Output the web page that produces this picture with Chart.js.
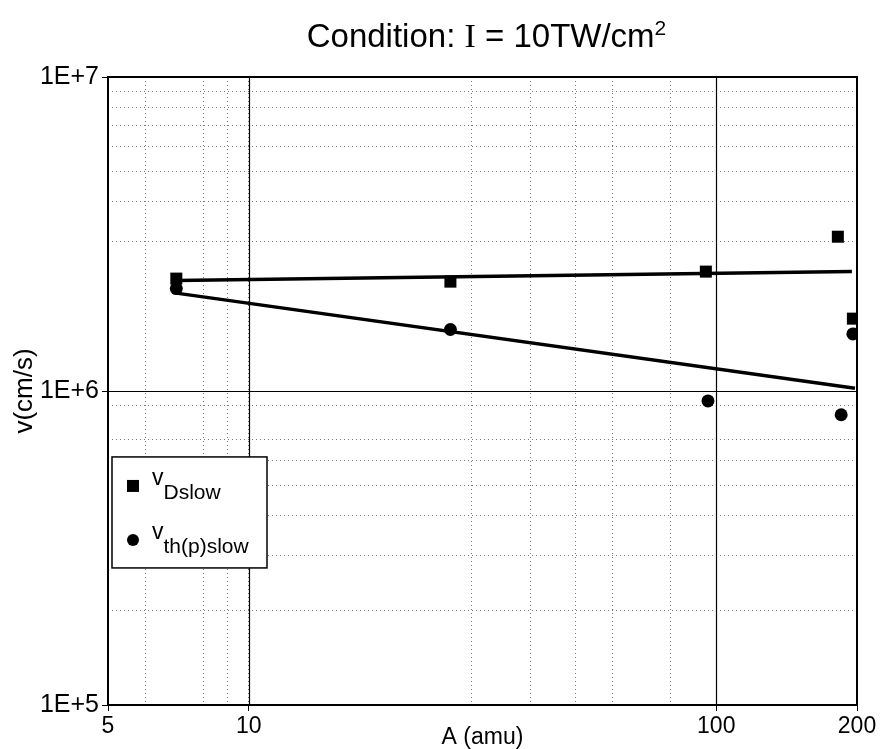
<!DOCTYPE html>
<html>
<head>
<meta charset="utf-8">
<script src="https://cdn.jsdelivr.net/npm/chart.js@4.4.0/dist/chart.umd.min.js"></script>
<style>
  html, body { margin: 0; padding: 0; background: #fff; }
</style>
</head>
<body>
<canvas id="chart" width="882" height="749"></canvas>
<script>
// Values: A (amu) against v (cm/s), log-log
const massD = [7, 27, 95, 182, 196];
const vDslow = [2.28e6, 2.23e6, 2.4e6, 3.1e6, 1.7e6];
const massTh = [7, 27, 96, 185, 196];
const vThSlow = [2.12e6, 1.57e6, 0.93e6, 0.84e6, 1.52e6];

// End points of the two fitted trend lines
const fitDx = [7, 195];
const fitDy = [2.25e6, 2.4e6];
const fitThx = [7, 198];
const fitThy = [2.05e6, 1.02e6];

// Grid positions that show in the scan, and the ticks that carry labels
const xTicks = [5, 6, 8, 9, 10, 30, 40, 50, 60, 80, 100, 200];
const xLabelled = [5, 10, 100, 200];
const yTicks = [1e5, 2e5, 3e5, 4e5, 5e5, 6e5, 7e5, 9e5,
                1e6, 3e6, 4e6, 5e6, 6e6, 7e6, 8e6, 9e6, 1e7];
const yLabelled = [1e5, 1e6, 1e7];
const yLabelText = ['1E+5', '1E+6', '1E+7'];
const xMajor = [10, 100];
const yMajor = [1e6];

const FONT = "'Liberation Sans', Arial, sans-serif";
const SERIF = "'Liberation Serif', 'Times New Roman', serif";

function pairs(xs, ys) {
    return xs.map((x, i) => ({ x: x, y: ys[i] }));
}

// Solid major grid lines and the full box round the plot
const framePlugin = {
    id: 'frame',
    beforeDatasetsDraw(chart) {
        const { ctx, chartArea: a, scales } = chart;
        ctx.save();
        ctx.strokeStyle = '#000';
        ctx.lineWidth = 1.2;
        ctx.setLineDash([]);
        ctx.beginPath();
        xMajor.forEach(v => {
            const px = Math.round(scales.x.getPixelForValue(v)) + 0.5;
            ctx.moveTo(px, a.top);
            ctx.lineTo(px, a.bottom);
        });
        yMajor.forEach(v => {
            const py = Math.round(scales.y.getPixelForValue(v)) + 0.5;
            ctx.moveTo(a.left, py);
            ctx.lineTo(a.right, py);
        });
        ctx.stroke();
        ctx.lineWidth = 2;
        ctx.strokeRect(a.left, a.top, a.right - a.left, a.bottom - a.top);
        ctx.restore();
    }
};

// Title with a serif "I" and a raised 2, like the original
const titlePlugin = {
    id: 'mixedTitle',
    afterDraw(chart) {
        const { ctx, chartArea: a } = chart;
        const parts = [
            ['Condition: ', '33px ' + FONT, 0],
            ['I', '34px ' + SERIF, 0],
            [' = 10TW/cm', '33px ' + FONT, 0],
            ['2', '21px ' + FONT, -12]
        ];
        ctx.save();
        ctx.fillStyle = '#000';
        ctx.textBaseline = 'alphabetic';
        ctx.textAlign = 'left';
        let total = 0;
        parts.forEach(p => { ctx.font = p[1]; total += ctx.measureText(p[0]).width; });
        let x = (a.left + a.right) / 2 + 4 - total / 2;
        const base = 47;
        parts.forEach(p => {
            ctx.font = p[1];
            ctx.fillText(p[0], x, base + p[2]);
            x += ctx.measureText(p[0]).width;
        });
        ctx.restore();
    }
};

// Legend box with subscripted labels
const legendPlugin = {
    id: 'subLegend',
    afterDraw(chart) {
        const { ctx, chartArea: a } = chart;
        const L = a.left + 4;
        const T = a.top + (a.bottom - a.top) * 0.605;
        const W = 155, H = 111;
        ctx.save();
        ctx.fillStyle = '#fff';
        ctx.fillRect(L, T, W, H);
        ctx.strokeStyle = '#000';
        ctx.lineWidth = 1.5;
        ctx.strokeRect(L, T, W, H);

        ctx.fillStyle = '#000';
        ctx.fillRect(L + 15, T + 23, 12, 12);
        ctx.beginPath();
        ctx.arc(L + 21, T + 83, 6, 0, Math.PI * 2);
        ctx.fill();

        ctx.textBaseline = 'alphabetic';
        ctx.textAlign = 'left';
        const rows = [['v', 'Dslow', T + 28], ['v', 'th(p)slow', T + 82]];
        rows.forEach(r => {
            ctx.font = '23px ' + FONT;
            ctx.fillText(r[0], L + 40, r[2]);
            const w = ctx.measureText(r[0]).width;
            ctx.font = '21px ' + FONT;
            ctx.fillText(r[1], L + 40 + w, r[2] + 14);
        });
        ctx.restore();
    }
};

const ctx = document.getElementById('chart').getContext('2d');
new Chart(ctx, {
    type: 'scatter',
    data: {
        datasets: [
            {
                label: 'vDslow',
                data: pairs(massD, vDslow),
                pointStyle: 'rect',
                pointRadius: 8.5,
                backgroundColor: '#000',
                borderColor: '#000',
                borderWidth: 0
            },
            {
                label: 'vth(p)slow',
                data: pairs(massTh, vThSlow),
                pointStyle: 'circle',
                pointRadius: 6.5,
                backgroundColor: '#000',
                borderColor: '#000',
                borderWidth: 0
            },
            {
                label: 'fit D',
                data: pairs(fitDx, fitDy),
                showLine: true,
                pointRadius: 0,
                borderColor: '#000',
                borderWidth: 3.5
            },
            {
                label: 'fit th',
                data: pairs(fitThx, fitThy),
                showLine: true,
                pointRadius: 0,
                borderColor: '#000',
                borderWidth: 3.5
            }
        ]
    },
    options: {
        responsive: false,
        devicePixelRatio: 1,
        animation: false,
        layout: { padding: { top: 77, right: 25 } },
        plugins: {
            legend: { display: false },
            tooltip: { enabled: false },
            title: { display: false }
        },
        scales: {
            x: {
                type: 'logarithmic',
                min: 5,
                max: 200,
                afterBuildTicks: s => { s.ticks = xTicks.map(v => ({ value: v })); },
                afterFit: s => { s.height = 44; },
                ticks: {
                    autoSkip: false,
                    maxRotation: 0,
                    padding: 2,
                    color: '#000',
                    font: { family: FONT, size: 23 },
                    callback: v => xLabelled.includes(v) ? String(v) : ''
                },
                grid: {
                    color: '#7a7a7a',
                    lineWidth: 1,
                    tickLength: 6,
                    tickColor: c => (c.tick && xLabelled.includes(c.tick.value)) ? '#000' : 'rgba(0,0,0,0)'
                },
                border: { display: false, dash: [1, 3] },
                title: {
                    display: true,
                    text: 'A (amu)',
                    color: '#000',
                    font: { family: FONT, size: 23, lineHeight: 1 },
                    padding: { top: 0, bottom: 0 }
                }
            },
            y: {
                type: 'logarithmic',
                min: 1e5,
                max: 1e7,
                afterBuildTicks: s => { s.ticks = yTicks.map(v => ({ value: v })); },
                afterFit: s => { s.width = 108; },
                ticks: {
                    autoSkip: false,
                    padding: 3,
                    color: '#000',
                    font: { family: FONT, size: 25 },
                    callback: v => {
                        const i = yLabelled.indexOf(v);
                        return i >= 0 ? yLabelText[i] : '';
                    }
                },
                grid: {
                    color: '#7a7a7a',
                    lineWidth: 1,
                    tickLength: 6,
                    tickColor: c => (c.tick && yLabelled.includes(c.tick.value)) ? '#000' : 'rgba(0,0,0,0)'
                },
                border: { display: false, dash: [1, 3] },
                title: {
                    display: true,
                    text: 'v(cm/s)',
                    color: '#000',
                    font: { family: FONT, size: 26, lineHeight: 1 },
                    padding: { top: 12, bottom: 0 }
                }
            }
        }
    },
    plugins: [framePlugin, titlePlugin, legendPlugin]
});
</script>
</body>
</html>
